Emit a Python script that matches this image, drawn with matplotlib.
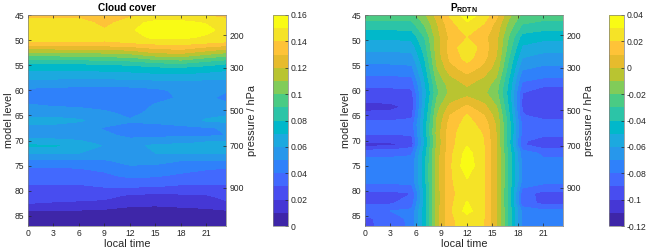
import numpy as np
import matplotlib.pyplot as plt

plt.rcParams['font.family'] = ['Liberation Sans', 'DejaVu Sans']
plt.rcParams['axes.unicode_minus'] = False
plt.rcParams['mathtext.fontset'] = 'custom'
plt.rcParams['mathtext.bf'] = 'Liberation Sans:bold'
plt.rcParams['mathtext.rm'] = 'Liberation Sans'

# ---- data: cloud cover (local time x model level)
time_cc = [0, 3, 6, 9, 12, 15, 18, 21, 23.3]
level_cc = [45, 46.5, 48, 49.5, 50.5, 51.5, 52.5, 53.5, 54.5, 55.5, 57, 58.5,
            60, 61.5, 63, 64.5, 66, 67.5, 69, 70.5, 71, 72.5, 74, 75.5, 77,
            79, 81, 82.5, 84, 87]
cloud_cover = [
    [0.136, 0.136, 0.136, 0.131, 0.137, 0.141, 0.141, 0.139, 0.136],
    [0.145, 0.146, 0.145, 0.136, 0.146, 0.153, 0.153, 0.149, 0.145],
    [0.147, 0.148, 0.147, 0.141, 0.148, 0.158, 0.158, 0.153, 0.146],
    [0.145, 0.146, 0.145, 0.142, 0.146, 0.152, 0.152, 0.148, 0.145],
    [0.138, 0.139, 0.139, 0.139, 0.140, 0.143, 0.144, 0.141, 0.139],
    [0.123, 0.124, 0.124, 0.125, 0.127, 0.132, 0.134, 0.128, 0.124],
    [0.108, 0.109, 0.110, 0.111, 0.113, 0.120, 0.122, 0.115, 0.110],
    [0.094, 0.095, 0.096, 0.097, 0.099, 0.105, 0.107, 0.100, 0.096],
    [0.081, 0.081, 0.082, 0.083, 0.085, 0.090, 0.092, 0.086, 0.082],
    [0.073, 0.073, 0.073, 0.074, 0.075, 0.078, 0.079, 0.076, 0.073],
    [0.065, 0.065, 0.065, 0.065, 0.066, 0.067, 0.068, 0.066, 0.065],
    [0.055, 0.055, 0.054, 0.054, 0.055, 0.056, 0.057, 0.056, 0.055],
    [0.048, 0.047, 0.046, 0.045, 0.046, 0.048, 0.052, 0.053, 0.051],
    [0.046, 0.045, 0.044, 0.043, 0.044, 0.047, 0.051, 0.052, 0.047],
    [0.051, 0.049, 0.048, 0.046, 0.044, 0.051, 0.053, 0.054, 0.053],
    [0.056, 0.056, 0.055, 0.052, 0.047, 0.053, 0.056, 0.057, 0.058],
    [0.063, 0.063, 0.061, 0.056, 0.051, 0.052, 0.054, 0.061, 0.063],
    [0.057, 0.057, 0.055, 0.049, 0.047, 0.047, 0.048, 0.049, 0.051],
    [0.056, 0.056, 0.055, 0.052, 0.048, 0.048, 0.049, 0.049, 0.050],
    [0.065, 0.065, 0.063, 0.057, 0.054, 0.056, 0.058, 0.062, 0.063],
    [0.072, 0.071, 0.067, 0.059, 0.055, 0.063, 0.066, 0.066, 0.065],
    [0.061, 0.061, 0.060, 0.056, 0.054, 0.060, 0.060, 0.061, 0.061],
    [0.048, 0.048, 0.048, 0.049, 0.053, 0.053, 0.050, 0.049, 0.049],
    [0.039, 0.039, 0.040, 0.042, 0.048, 0.047, 0.044, 0.041, 0.040],
    [0.036, 0.036, 0.036, 0.038, 0.042, 0.041, 0.038, 0.036, 0.036],
    [0.029, 0.029, 0.029, 0.031, 0.032, 0.031, 0.029, 0.029, 0.029],
    [0.024, 0.024, 0.024, 0.023, 0.018, 0.017, 0.018, 0.019, 0.023],
    [0.020, 0.019, 0.018, 0.017, 0.013, 0.012, 0.013, 0.014, 0.018],
    [0.009, 0.009, 0.009, 0.008, 0.006, 0.006, 0.007, 0.008, 0.009],
    [0.004, 0.004, 0.004, 0.004, 0.004, 0.004, 0.004, 0.004, 0.004],
]

# ---- data: P_RDTN
time_rd = [0, 3, 5.5, 7, 8.5, 10, 12, 14, 15.5, 17, 18.5, 21, 23.3]
level_rd = [45, 47, 49.4, 51.5, 53.5, 55.5, 57.5, 59, 60.5, 62, 63.3, 65,
            66.8, 68.5, 70, 70.8, 72.5, 75, 78, 80.5, 82.5, 84, 85.5, 87]
p_rdtn = [
    [-0.025, -0.025, -0.024, -0.012, 0.004, 0.021, 0.036, 0.026, 0.012, -0.008, -0.022, -0.025, -0.025],
    [-0.035, -0.035, -0.034, -0.020, -0.001, 0.016, 0.027, 0.019, 0.006, -0.015, -0.031, -0.034, -0.034],
    [-0.048, -0.048, -0.047, -0.030, -0.004, 0.012, 0.0195, 0.013, 0.002, -0.022, -0.044, -0.047, -0.047],
    [-0.057, -0.057, -0.056, -0.035, -0.004, 0.014, 0.027, 0.015, 0.001, -0.026, -0.052, -0.056, -0.056],
    [-0.065, -0.065, -0.064, -0.040, -0.006, 0.012, 0.024, 0.013, -0.001, -0.031, -0.060, -0.064, -0.064],
    [-0.073, -0.073, -0.072, -0.045, -0.010, 0.006, 0.016, 0.007, -0.005, -0.036, -0.068, -0.072, -0.072],
    [-0.082, -0.082, -0.081, -0.050, -0.015, -0.002, 0.006, -0.001, -0.011, -0.041, -0.077, -0.080, -0.080],
    [-0.088, -0.088, -0.087, -0.053, -0.020, -0.006, 0.0005, -0.005, -0.016, -0.044, -0.083, -0.089, -0.089],
    [-0.094, -0.094, -0.093, -0.055, -0.022, -0.008, -0.004, -0.008, -0.018, -0.046, -0.090, -0.095, -0.095],
    [-0.097, -0.097, -0.095, -0.054, -0.018, -0.003, 0.004, -0.003, -0.014, -0.045, -0.091, -0.096, -0.096],
    [-0.106, -0.104, -0.096, -0.052, -0.014, 0.003, 0.012, 0.003, -0.010, -0.043, -0.091, -0.096, -0.096],
    [-0.094, -0.094, -0.092, -0.050, -0.010, 0.010, 0.021, 0.010, -0.005, -0.040, -0.089, -0.094, -0.094],
    [-0.087, -0.087, -0.086, -0.047, -0.007, 0.014, 0.024, 0.016, -0.002, -0.037, -0.082, -0.085, -0.085],
    [-0.089, -0.089, -0.088, -0.047, -0.006, 0.016, 0.026, 0.019, -0.001, -0.037, -0.083, -0.086, -0.086],
    [-0.096, -0.096, -0.094, -0.050, -0.007, 0.016, 0.028, 0.020, -0.001, -0.038, -0.088, -0.095, -0.095],
    [-0.104, -0.103, -0.095, -0.050, -0.007, 0.016, 0.029, 0.020, -0.001, -0.038, -0.089, -0.097, -0.097],
    [-0.082, -0.082, -0.081, -0.045, -0.005, 0.017, 0.034, 0.021, 0.000, -0.035, -0.075, -0.082, -0.082],
    [-0.076, -0.076, -0.076, -0.044, -0.004, 0.018, 0.037, 0.021, 0.000, -0.034, -0.072, -0.076, -0.076],
    [-0.076, -0.076, -0.076, -0.044, -0.004, 0.018, 0.029, 0.021, 0.000, -0.034, -0.072, -0.076, -0.076],
    [-0.093, -0.093, -0.090, -0.048, -0.005, 0.017, 0.026, 0.021, 0.000, -0.036, -0.086, -0.093, -0.093],
    [-0.091, -0.091, -0.085, -0.047, -0.005, 0.017, 0.031, 0.021, 0.000, -0.036, -0.086, -0.092, -0.092],
    [-0.080, -0.080, -0.078, -0.045, -0.004, 0.018, 0.034, 0.021, 0.000, -0.034, -0.073, -0.078, -0.078],
    [-0.093, -0.084, -0.078, -0.045, -0.004, 0.018, 0.025, 0.020, 0.000, -0.034, -0.073, -0.077, -0.077],
    [-0.093, -0.085, -0.078, -0.045, -0.004, 0.018, 0.024, 0.020, 0.000, -0.034, -0.073, -0.077, -0.077],
]

time_ticks = [0, 3, 6, 9, 12, 15, 18, 21]
level_ticks = [45, 50, 55, 60, 65, 70, 75, 80, 85]
pressure_pos = [49, 55.5, 64, 71, 79.4]
pressure_labels = ['200', '300', '500', '700', '900']
cc_levels = np.linspace(0, 0.16, 17)
rd_levels = np.linspace(-0.12, 0.04, 17)

# 16 parula colours
parula16 = [(0.2422, 0.1504, 0.6603), (0.2706, 0.2147, 0.8364), (0.2813, 0.3006, 0.9414),
            (0.2602, 0.4123, 0.9952), (0.1834, 0.5074, 0.9798), (0.1540, 0.5902, 0.9218),
            (0.1113, 0.6635, 0.8763), (0.0036, 0.7203, 0.7917), (0.1717, 0.7670, 0.6554),
            (0.2906, 0.7973, 0.5188), (0.5044, 0.7993, 0.3480), (0.7242, 0.7698, 0.1910),
            (0.9035, 0.7330, 0.1774), (0.9970, 0.7659, 0.2199), (0.9610, 0.8890, 0.1537),
            (0.9769, 0.9839, 0.0805)]

edge = '#262626'
fs_tick = 6.2
fs_lab = 7.8

fig = plt.figure(figsize=(6.48, 2.52), dpi=100)


def panel(ax_rect, cb_rect, t, lev, z, levels, title, cb_ticks):
    ax = fig.add_axes(ax_rect)
    cs = ax.contourf(t, lev, np.array(z), levels=levels, colors=parula16)
    ax.set_xlim(0, 23.3)
    ax.set_ylim(87, 45)
    ax.set_xticks(time_ticks)
    ax.set_yticks(level_ticks)
    ax.tick_params(direction='in', length=2.5, width=0.5, labelsize=fs_tick,
                   colors=edge, top=True, pad=2.5)
    ax.set_xlabel('local time', fontsize=fs_lab, color=edge, labelpad=0.5)
    ax.set_ylabel('model level', fontsize=fs_lab, color=edge, labelpad=1)
    ax.set_title(title, fontsize=7.2, fontweight='bold', color='black', pad=3)
    for s in ax.spines.values():
        s.set_color('#808080')
        s.set_linewidth(0.5)

    ax2 = ax.twinx()
    ax2.set_ylim(87, 45)
    ax2.set_yticks(pressure_pos)
    ax2.set_yticklabels(pressure_labels)
    ax2.tick_params(direction='in', length=2.5, width=0.5, labelsize=fs_tick,
                    colors=edge, pad=2.5)
    ax2.set_ylabel('pressure / hPa', fontsize=fs_lab, color=edge, labelpad=2)
    for s in ax2.spines.values():
        s.set_visible(False)

    cax = fig.add_axes(cb_rect)
    cb = fig.colorbar(cs, cax=cax)
    cb.set_ticks(cb_ticks)
    cb.set_ticklabels([f'{v:g}' for v in cb_ticks])
    cb.ax.tick_params(direction='in', length=2, width=0.5, labelsize=fs_tick,
                      colors=edge, pad=2)
    cb.outline.set_edgecolor('#808080')
    cb.outline.set_linewidth(0.5)


H = 252.0
W = 648.0
panel([28 / W, (H - 226) / H, 198 / W, 211 / H],
      [273 / W, (H - 226) / H, 14.5 / W, 211 / H],
      time_cc, level_cc, cloud_cover, cc_levels, 'Cloud cover',
      [0, 0.02, 0.04, 0.06, 0.08, 0.1, 0.12, 0.14, 0.16])
panel([365 / W, (H - 226) / H, 198 / W, 211 / H],
      [609 / W, (H - 226) / H, 14.5 / W, 211 / H],
      time_rd, level_rd, p_rdtn, rd_levels, r'$\mathbf{P_{RDTN}}$',
      [-0.12, -0.1, -0.08, -0.06, -0.04, -0.02, 0, 0.02, 0.04])

fig.savefig('out.png', dpi=100)
